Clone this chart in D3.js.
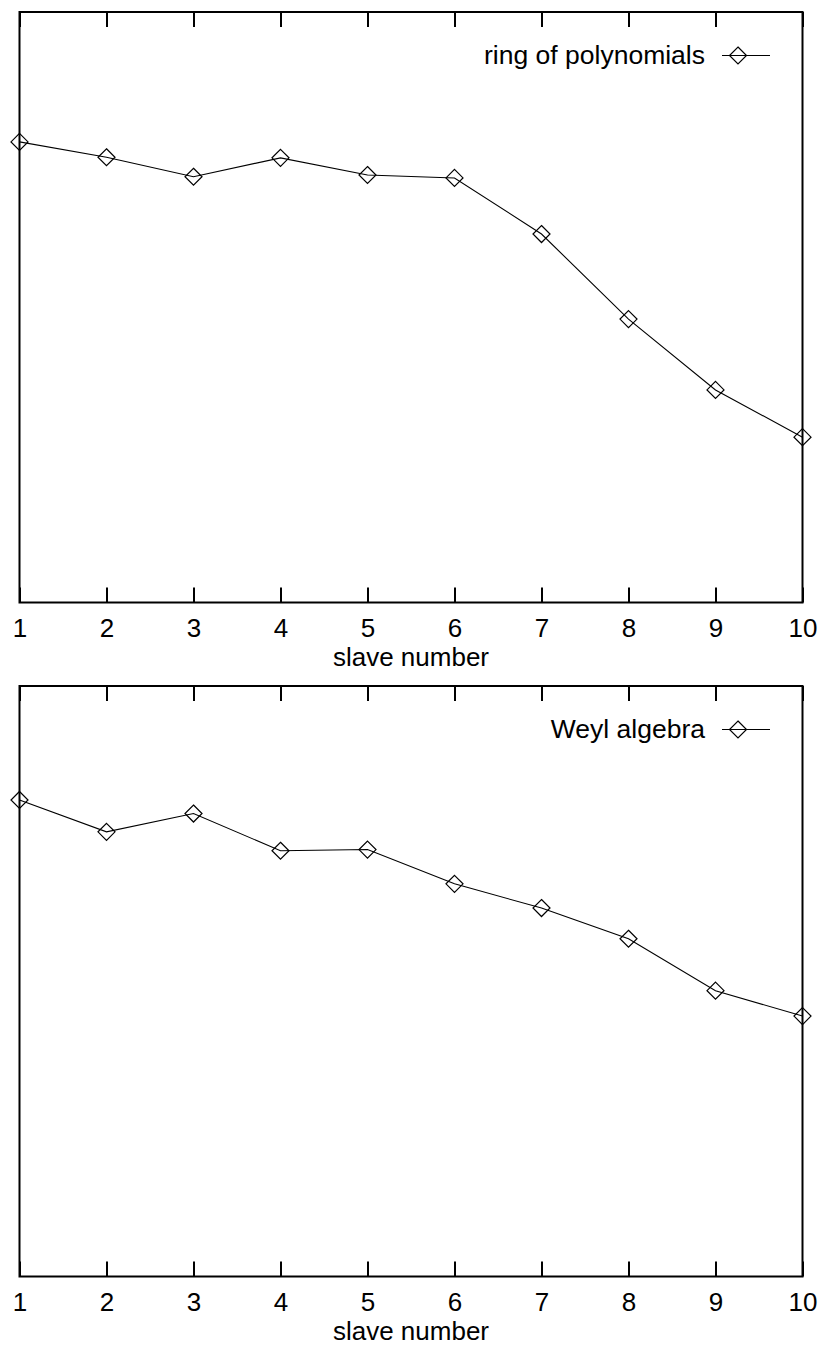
<!DOCTYPE html>
<html>
<head>
<meta charset="utf-8">
<script src="https://cdn.jsdelivr.net/npm/d3@7/dist/d3.min.js"></script>
<style>
  html, body { margin: 0; padding: 0; background: #fff; }
  svg { display: block; }
  text { font-family: "Liberation Sans", Arial, Helvetica, sans-serif; fill: #000; }
</style>
</head>
<body>
<div id="chart"></div>
<script>
// ---- data ----
const slaves = [1, 2, 3, 4, 5, 6, 7, 8, 9, 10];
const xTickLabels = ["1", "2", "3", "4", "5", "6", "7", "8", "9", "10"];
const ringValues = [78.0, 75.4, 72.1, 75.3, 72.4, 71.9, 62.4, 48.0, 36.0, 28.0];
const weylValues = [80.7, 75.3, 78.4, 72.1, 72.3, 66.5, 62.4, 57.2, 48.4, 44.1];
const seriesNames = ["ring of polynomials", "Weyl algebra"];
const xAxisTitle = "slave number";

// ---- layout ----
const W = 822, H = 1347;
const panelTops = [12, 686];
const panelH = 590.5;
const left = 19.5, right = 802.5;
const fontSize = 26;

const svg = d3.select("#chart").append("svg")
  .attr("width", W).attr("height", H);

const x = d3.scaleLinear().domain([1, 10]).range([left, right]);

const panels = [
  { name: seriesNames[0], values: ringValues },
  { name: seriesNames[1], values: weylValues }
];

function diamondPath(g, cx, cy, r) {
  g.append("path")
    .attr("d", `M${cx},${cy - r}L${cx + r},${cy}L${cx},${cy + r}L${cx - r},${cy}Z`)
    .attr("fill", "none").attr("stroke", "#000").attr("stroke-width", 1.2);
}

panels.forEach((p, i) => {
  const top = panelTops[i];
  const bottom = top + panelH;
  const y = d3.scaleLinear().domain([0, 100]).range([bottom, top]);
  const g = svg.append("g");

  // bottom axis with inward ticks + labels
  const axB = d3.axisBottom(x).tickValues(slaves)
    .tickFormat((d, k) => xTickLabels[k])
    .tickSize(-15).tickPadding(16.5);
  const gb = g.append("g").attr("transform", `translate(0,${bottom})`).call(axB);
  gb.select(".domain").remove();
  gb.selectAll(".tick line").attr("stroke", "#000").attr("stroke-width", 2);
  gb.selectAll(".tick text").attr("font-size", fontSize)
    .style("font-family", '"Liberation Sans", Arial, sans-serif');
  gb.attr("font-size", fontSize);

  // top axis inward ticks, no labels
  const axT = d3.axisTop(x).tickValues(slaves).tickFormat("").tickSize(-15);
  const gt = g.append("g").attr("transform", `translate(0,${top})`).call(axT);
  gt.select(".domain").remove();
  gt.selectAll(".tick line").attr("stroke", "#000").attr("stroke-width", 2);

  // frame
  g.append("rect")
    .attr("x", left).attr("y", top)
    .attr("width", right - left).attr("height", panelH)
    .attr("fill", "none").attr("stroke", "#000").attr("stroke-width", 2);

  // axis title
  g.append("text")
    .attr("x", (left + right) / 2).attr("y", bottom + 63.5)
    .attr("text-anchor", "middle").attr("font-size", fontSize)
    .text(xAxisTitle);

  // line
  const line = d3.line().x((d, k) => x(slaves[k])).y(d => y(d));
  g.append("path").datum(p.values)
    .attr("d", line)
    .attr("fill", "none").attr("stroke", "#000").attr("stroke-width", 1.1);

  // markers
  p.values.forEach((v, k) => diamondPath(g, x(slaves[k]), y(v), 8.5));

  // legend
  const ly = top + 43.5;
  g.append("text")
    .attr("x", 705).attr("y", top + 51.5)
    .attr("text-anchor", "end").attr("font-size", 26.5)
    .text(p.name);
  g.append("line")
    .attr("x1", 722).attr("x2", 770).attr("y1", ly).attr("y2", ly)
    .attr("stroke", "#000").attr("stroke-width", 1.1);
  diamondPath(g, 738, ly, 8.5);
});
</script>
</body>
</html>
